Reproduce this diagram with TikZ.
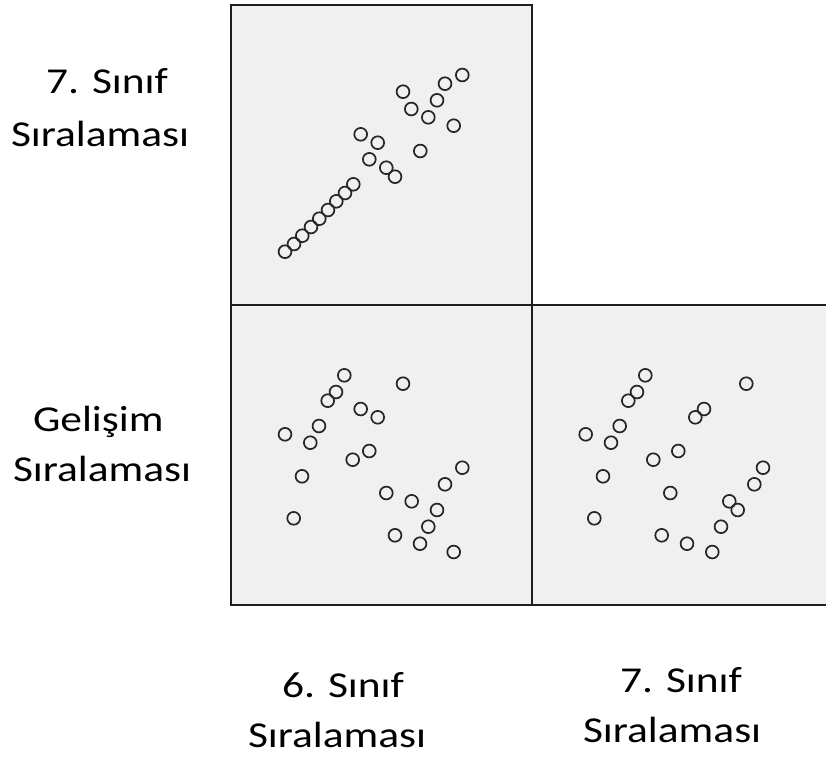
\documentclass[tikz,border=0pt]{standalone}
\usepackage{fontspec}
\setmainfont{Carlito}
\begin{document}
\begin{tikzpicture}[x=1pt,y=-1pt,
  pt/.style={draw=dotcol,line width=1.7pt},
  frame/.style={framecol,line width=2.2pt},
  lab/.style={anchor=base west,inner sep=0pt,outer sep=0pt,font=\fontsize{36.5}{42}\selectfont}]
\definecolor{panelgray}{HTML}{F0F0F0}
\definecolor{framecol}{HTML}{1E1E1E}
\definecolor{dotcol}{HTML}{262626}
\useasboundingbox (0,0) rectangle (826,758);
% panels
\fill[panelgray] (231,5) rectangle (532,305);
\fill[panelgray] (231,305) rectangle (532,605);
\fill[panelgray] (532,305) rectangle (826,605);
\draw[frame] (231,5) rectangle (532,605);
\draw[frame] (231,305) -- (826,305);
\draw[frame] (231,605) -- (826,605);
\draw[frame] (532,305) -- (532,605);
% top-left scatter
\foreach \x/\y in {285/251.7,294/244,302.3/235.7,311/227,319.3/218.7,328/210,336.3/201.3,345/193,353.3/184.3,
  360.7/134.3,377.7/142.7,369.3/159.3,386.3/167.7,395/176.7,420.3/151,403/91.7,411.3/109,428.3/117.3,
  437/100.3,445/83.7,462.3/75,453.7/125.7}
  \draw[pt] (\x,\y) circle[radius=6.4];
% bottom-left scatter
\foreach \x/\y in {285/434.3,310.3/442.7,319/426,327.7/400.7,336/392,344.3/375.3,403/383.7,360.7/409,
  377.7/417.3,369.3/451,352.7/459.7,302/476.3,293.7/518.3,386.3/493,411.7/501.3,395/535.3,420/543.7,
  428.3/526.7,437/510,445/484.3,462.3/467.7,453.7/552}
  \draw[pt] (\x,\y) circle[radius=6.4];
% bottom-right scatter
\foreach \x/\y in {585.7/434.3,611/442.7,619.7/426,628.3/400.7,637/392,645.3/375.3,746.3/383.7,704/409,
  695.3/417.3,678.3/451,653.3/459.7,603/476.3,594.3/518.3,670.3/493,729.3/501.3,661.7/535.3,687/543.7,
  721/526.7,737.7/510,754.3/484.3,763/467.7,712.3/552}
  \draw[pt] (\x,\y) circle[radius=6.4];
% labels
\node[lab] (l1a) at (46,93) {\scalebox{1.19}[1]{7. Sınıf}};
\node[lab] (l1b) at (11,146) {\scalebox{1.19}[1]{Sıralaması}};
\node[lab] (l2a) at (33,431) {\scalebox{1.19}[1]{Gelişim}};
\node[lab] (l2b) at (13,481) {\scalebox{1.19}[1]{Sıralaması}};
\node[lab] (l3a) at (282,697) {\scalebox{1.19}[1]{6. Sınıf}};
\node[lab] (l3b) at (248,747) {\scalebox{1.19}[1]{Sıralaması}};
\node[lab] (l4a) at (620,692) {\scalebox{1.19}[1]{7. Sınıf}};
\node[lab] (l4b) at (583,742) {\scalebox{1.19}[1]{Sıralaması}};
\end{tikzpicture}
\end{document}
